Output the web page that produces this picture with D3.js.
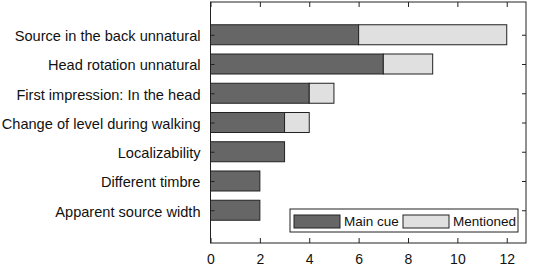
<!DOCTYPE html>
<html><head><meta charset="utf-8">
<script src="https://cdn.jsdelivr.net/npm/d3@7"></script>
<style>body{margin:0;background:#fff}svg{display:block}text{font-family:"Liberation Sans",Arial,sans-serif}</style>
</head><body>
<script>
const categories = ["Source in the back unnatural","Head rotation unnatural","First impression: In the head","Change of level during walking","Localizability","Different timbre","Apparent source width"];
const mainCue = [6,7,4,3,3,2,2];
const mentioned = [6,2,1,1,0,0,0];
const xTicks = [0,2,4,6,8,10,12];
const seriesNames = ["Main cue","Mentioned"];
const colors = ["#666666","#e0e0e0"];

const W=533,H=267;
const L=210.5,R=526,T=2,B=243;
const svg=d3.select("body").append("svg").attr("width",W).attr("height",H);
const x=d3.scaleLinear().domain([0,12.78]).range([L,R]);
const n=categories.length;
const y=d3.scaleLinear().domain([-0.12,n+1.12]).range([B,T]);
const yc=i=>y(n-i);
const bh=20;

const g=svg.append("g");
categories.forEach((c,i)=>{
  const vals=[mainCue[i],mentioned[i]];
  let acc=0;
  vals.forEach((v,k)=>{
    if(v>0){
      g.append("rect").attr("x",x(acc)).attr("y",yc(i)-bh/2).attr("width",x(acc+v)-x(acc)).attr("height",bh)
        .attr("fill",colors[k]).attr("stroke","#222").attr("stroke-width",1);
    }
    acc+=v;
  });
});

svg.append("rect").attr("x",L).attr("y",T).attr("width",R-L).attr("height",B-T).attr("fill","none").attr("stroke","#222").attr("stroke-width",1);

const xa=d3.axisBottom(x).tickValues(xTicks).tickSize(-5).tickPadding(11.5);
const gx=svg.append("g").attr("transform",`translate(0,${B})`).call(xa);
gx.select(".domain").remove();
gx.selectAll("line").attr("stroke","#222");
gx.selectAll("text").attr("font-size",14).attr("fill","#111");
const gxt=svg.append("g").attr("transform",`translate(0,${T})`).call(d3.axisTop(x).tickValues(xTicks).tickSize(-5).tickFormat(""));
gxt.select(".domain").remove();
gxt.selectAll("line").attr("stroke","#222");

const ys=d3.scalePoint().domain(categories).range([yc(0),yc(n-1)]);
const gy=svg.append("g").attr("transform",`translate(${L},0)`).call(d3.axisLeft(ys).tickSize(-4).tickPadding(10));
gy.select(".domain").remove();
gy.selectAll("line").attr("stroke","#222");
gy.selectAll("text").attr("font-size",14.6).attr("fill","#111").attr("dy","0.4em");
const gyr=svg.append("g").attr("transform",`translate(${R},0)`).call(d3.axisRight(ys).tickSize(-4).tickFormat(""));
gyr.select(".domain").remove();
gyr.selectAll("line").attr("stroke","#222");

const lg=svg.append("g");
lg.append("rect").attr("x",290).attr("y",209).attr("width",228).attr("height",23).attr("fill","#fff").attr("stroke","#222");
const lx=[294,403];
seriesNames.forEach((s,k)=>{
  lg.append("rect").attr("x",lx[k]).attr("y",215).attr("width",46).attr("height",13).attr("fill",colors[k]).attr("stroke","#222");
  lg.append("text").attr("x",lx[k]+50).attr("y",221.5).attr("dy","0.35em").attr("font-size",13.5).attr("fill","#111").text(s);
});
</script>
</body></html>
